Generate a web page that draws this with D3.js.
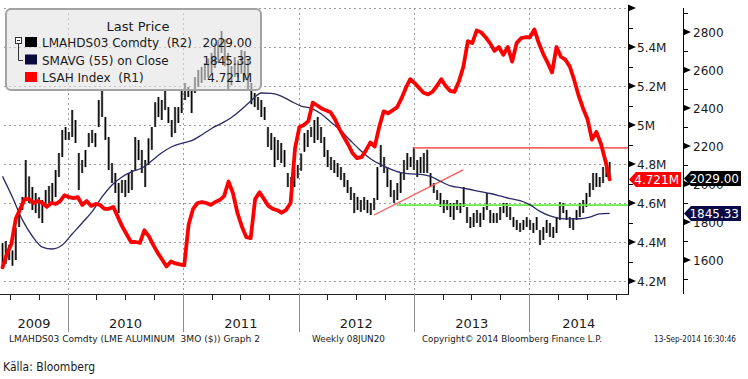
<!DOCTYPE html>
<html><head><meta charset="utf-8">
<script src="https://cdn.jsdelivr.net/npm/d3@7"></script>
<style>body{margin:0;background:#fff}svg{display:block}text{font-family:"DejaVu Sans",sans-serif;white-space:pre}</style>
</head><body><svg id="c" width="748" height="379"></svg>
<script>
// ---------------- data ----------------
const firstDate = "2009-06-08", lastDate = "2014-09-12";   // weekly series, evenly sampled between these
// LMAHDS03 Comdty (R2) – bar highs / lows
const priceHigh = [1690,1700,1680,1650,1770,1863,1932,2126,2040,1984,1953,1930,1916,1968,1990,2005,2074,
2163,2284,2300,2274,2390,2337,2163,2126,2179,2268,
2284,2268,2442,2495,2353,2247,2110,2058,2005,2021,
2021,2058,2074,2247,2232,2179,2126,2240,2300,2430,
2458,2442,2495,2405,2337,2405,2405,2495,2532,2511,
2495,2563,2600,2616,2637,2660,2690,2740,2758,2805,
2760,2690,2620,2668,2650,2705,2700,2653,2532,2479,
2458,2442,2405,2300,2268,2247,2232,2216,2179,2058,
2037,2074,2100,2160,2268,2284,2300,2337,2353,2300,
2247,2179,2142,2126,2110,2089,2058,2021,1984,1953,
1932,1916,1932,1916,1900,1926,2089,2205,2142,2089,
2021,1968,2005,2058,2126,2163,2142,2195,2126,2142,
2163,2180,2058,2005,1968,1953,1916,1916,1900,1900,
1916,1900,1984,1879,1826,1847,1863,1847,1879,1953,
1863,1847,1847,1879,1900,1900,1879,1826,1811,1795,
1811,1826,1811,1795,1826,1758,1774,1811,1795,1774,
1826,1905,1900,1863,1826,1821,1863,1900,1916,1953,
2005,2058,2058,2037,2089,2126,2116];
const priceLow = [1560,1580,1600,1570,1600,1774,1863,1916,1900,1863,1847,1820,1795,1879,1890,1900,1932,
2037,2142,2232,2232,2247,2216,1968,2058,2089,2195,
2216,2195,2300,2353,2232,2074,2005,1953,1847,1953,
1932,1953,1968,2074,2126,2058,1984,2100,2180,2300,
2353,2337,2390,2321,2247,2268,2321,2374,2442,2458,
2374,2479,2511,2532,2547,2560,2584,2610,2640,2690,
2620,2495,2520,2563,2560,2580,2547,2495,2420,2405,
2390,2353,2337,2195,2179,2089,2126,2110,2089,1984,
1968,1984,2030,2070,2170,2195,2247,2216,2232,2216,
2142,2089,2074,2058,2037,2021,1984,1953,1916,1847,
1863,1853,1863,1847,1837,1863,1916,2089,2058,1984,
1932,1900,1916,1953,2021,2074,2089,2074,2037,2058,
2058,2058,1984,1953,1916,1879,1847,1863,1826,1811,
1863,1847,1879,1795,1768,1774,1795,1774,1811,1863,
1795,1795,1795,1811,1847,1826,1811,1774,1758,1747,
1758,1774,1758,1742,1758,1679,1705,1742,1721,1716,
1742,1811,1847,1811,1768,1758,1811,1826,1847,1879,
1932,1968,1984,1984,2005,2037,2029];
// SMAVG (55) on Close (R2)
const smavg = [2040,1930,1811,1725,1668,1658,1679,1737,1795,1855,
1932,1995,2037,2065,2084,2122,2164,2196,2214,2228,
2258,2292,2319,2350,2392,2440,2479,2477,2463,2435,
2410,2398,2370,2325,2280,2226,2175,2132,2102,2078,
2060,2053,2051,2040,2014,1990,1981,1971,1960,1950,
1937,1923,1912,1890,1856,1832,1819,1816,1817,1826,
1843,1845.33];
// LSAH Index (R1), millions of tonnes
const lsah = [4.27,4.34,4.39,4.52,4.57,4.62,4.62,4.60,4.61,4.60,
4.58,4.60,4.595,4.61,4.64,4.63,4.625,4.63,4.59,4.61,
4.585,4.595,4.59,4.57,4.57,4.58,4.53,4.48,4.44,4.40,
4.40,4.395,4.46,4.43,4.385,4.345,4.31,4.275,4.30,4.29,
4.285,4.28,4.49,4.57,4.60,4.605,4.60,4.59,4.605,4.615,
4.635,4.71,4.65,4.55,4.48,4.425,4.42,4.62,4.655,4.62,
4.585,4.57,4.563,4.55,4.565,4.60,4.88,4.99,5.00,5.02,
5.115,5.10,5.085,5.075,5.065,5.03,4.98,4.94,4.90,4.855,
4.83,4.835,4.87,4.91,4.89,4.99,5.07,5.06,5.075,5.09,
5.135,5.19,5.235,5.215,5.19,5.165,5.157,5.17,5.20,5.235,
5.20,5.175,5.17,5.225,5.30,5.43,5.42,5.485,5.475,5.45,
5.42,5.38,5.40,5.36,5.40,5.325,5.42,5.445,5.45,5.45,
5.49,5.42,5.365,5.32,5.27,5.40,5.35,5.335,5.30,5.23,
5.15,5.085,5.03,4.925,4.965,4.905,4.82,4.721];
// drawn annotation lines (R2 units)
const redLevel = {from:"2012-12-30", value:2190};
const greenLevel = {from:"2012-11-08", value:1889};
const trendLine = [["2012-08-27",1837],["2013-06-05",2074]];
// axes
const r1Ticks = [4.2,4.4,4.6,4.8,5.0,5.2,5.4,5.6];
const r1Labels = ["4.2M","4.4M","4.6M","4.8M","5M","5.2M","5.4M",""];
const r2Ticks = [1600,1800,2000,2200,2400,2600,2800];
const years = ["2009","2010","2011","2012","2013","2014"];
const legendNames = ["LMAHDS03 Comdty\u00A0\u00A0(R2)","SMAVG (55) on Close","LSAH Index\u00A0\u00A0(R1)"];
const legendValues = ["2029.00","1845.33","4.721M"];
const legendColors = ["#000000","#0a0a3c","#ff0000"];
const lastValues = {lsah:4.721, price:2029.00, sma:1845.33};
const footer = ["LMAHDS03 Comdty (LME ALUMINUM\u00A0\u00A03MO ($)) Graph 2","Weekly 08JUN20","Copyright\u00A9 2014 Bloomberg Finance L.P.","13-Sep-2014 16:30:46"];
const source = "K\u00E4lla: Bloomberg";

// ---------------- chart ----------------
const parse = d3.timeParse("%Y-%m-%d");
const svg = d3.select("#c");
const T = 8, B = 294, R = 628, R2X = 683;
const x = d3.scaleTime().domain([new Date(2009,4,31), new Date(2014,10,9)]).range([0, R]);
const yR1 = d3.scaleLinear().domain([4.2,5.4]).range([281,47]);
const yR2 = d3.scaleLinear().domain([1600,2800]).range([260,32]);
const spread = n => { const a = parse(firstDate), b = parse(lastDate);
  return d3.range(n).map(i => new Date(+a + (b - a) * i / (n - 1))); };

// grid
const grid = svg.append("g").attr("stroke","#9c9c9c").attr("stroke-dasharray","2,3").attr("stroke-width",1);
r1Ticks.forEach(v => { const y = Math.round(yR1(v)) + 0.5;
  grid.append("line").attr("x1",4).attr("x2",R).attr("y1",y).attr("y2",y); });
const yearStarts = d3.timeYear.range(x.domain()[0], x.domain()[1]);
yearStarts.forEach(d => { const xx = Math.round(x(d)) + 0.5;
  grid.append("line").attr("x1",xx).attr("x2",xx).attr("y1",T).attr("y2",B); });

// price bars
const pd = spread(priceHigh.length);
const bars = svg.append("g");
bars.selectAll("line.s").data(pd).join("line").attr("class","s")
  .attr("x1",d=>x(d)).attr("x2",d=>x(d))
  .attr("y1",(d,i)=>yR2(priceHigh[i])).attr("y2",(d,i)=>yR2(priceLow[i]))
  .attr("stroke","#7c7c7c").attr("stroke-width",2.4);
bars.selectAll("line.b").data(pd).join("line").attr("class","b")
  .attr("x1",d=>x(d)).attr("x2",d=>x(d))
  .attr("y1",(d,i)=>yR2(priceHigh[i])).attr("y2",(d,i)=>yR2(priceLow[i]))
  .attr("stroke","#000").attr("stroke-width",1.1);

// annotations
svg.append("line").attr("x1",x(parse(redLevel.from))).attr("x2",R)
  .attr("y1",yR2(redLevel.value)).attr("y2",yR2(redLevel.value))
  .attr("stroke","#ff6666").attr("stroke-width",1.6);
svg.append("line").attr("x1",x(parse(greenLevel.from))).attr("x2",R)
  .attr("y1",yR2(greenLevel.value)).attr("y2",yR2(greenLevel.value))
  .attr("stroke","#66ee44").attr("stroke-width",1.8);
svg.append("line").attr("x1",x(parse(trendLine[0][0]))).attr("y1",yR2(trendLine[0][1]))
  .attr("x2",x(parse(trendLine[1][0]))).attr("y2",yR2(trendLine[1][1]))
  .attr("stroke","#ff5555").attr("stroke-width",1.3);

// SMAVG
const sd = spread(smavg.length);
svg.append("path").datum(smavg).attr("fill","none").attr("stroke","#2b2b66").attr("stroke-width",1.3)
  .attr("d", d3.line().x((d,i)=>x(sd[i])).y(d=>yR2(d)).curve(d3.curveMonotoneX));

// LSAH
const ld = spread(lsah.length);
svg.append("path").datum(lsah).attr("fill","none").attr("stroke","#ff0000").attr("stroke-width",3.8)
  .attr("stroke-linejoin","round").attr("stroke-linecap","round")
  .attr("d", d3.line().x((d,i)=>x(ld[i])).y(d=>yR1(d)));

// legend
const lg = svg.append("g");
lg.append("rect").attr("x",6).attr("y",9).attr("width",255).attr("height",81).attr("rx",5)
  .attr("fill","#e2e2e2").attr("fill-opacity",0.6).attr("stroke","#a3a3a3").attr("stroke-width",2);
lg.append("text").attr("x",138).attr("y",31).attr("text-anchor","middle").attr("font-size",13).attr("fill","#1a1a1a").text("Last Price");
legendNames.forEach((n,i) => {
  const by = 47 + i*17.5;
  lg.append("rect").attr("x",25).attr("y",by-10).attr("width",12).attr("height",10).attr("fill",legendColors[i]);
  lg.append("text").attr("x",42).attr("y",by).attr("font-size",12).attr("fill","#1a1a1a").text(n);
  lg.append("text").attr("x",252).attr("y",by).attr("text-anchor","end").attr("font-size",12).attr("fill","#1a1a1a").text(legendValues[i]);
});
lg.append("rect").attr("x",15.5).attr("y",37.5).attr("width",6).attr("height",6).attr("fill","#fff").attr("stroke","#333");
lg.append("line").attr("x1",17).attr("x2",20).attr("y1",40.5).attr("y2",40.5).attr("stroke","#333");
lg.append("path").attr("d","M18.5,44V60.5H23").attr("fill","none").attr("stroke","#333");

// right axes
const ax = svg.append("g");
ax.append("line").attr("x1",R+0.5).attr("x2",R+0.5).attr("y1",T).attr("y2",B).attr("stroke","#000");
ax.append("line").attr("x1",R2X+0.5).attr("x2",R2X+0.5).attr("y1",T).attr("y2",B).attr("stroke","#000");
ax.append("line").attr("x1",0).attr("x2",R+1).attr("y1",B+0.5).attr("y2",B+0.5).attr("stroke","#222");
r1Ticks.forEach((v,i) => { const y = yR1(v);
  ax.append("path").attr("d",`M${R},${y-3.5}L${R+8},${y}L${R},${y+3.5}Z`).attr("fill","#000");
  if (r1Labels[i]) ax.append("text").attr("x",R+9).attr("y",y+4.5).attr("font-size",12).attr("fill","#1a1a1a").text(r1Labels[i]);
  if (v < 5.6) { const ym = Math.round(yR1(v+0.1))+0.5;
    ax.append("line").attr("x1",R).attr("x2",R+5).attr("y1",ym).attr("y2",ym).attr("stroke","#000"); }
});
[4.1].forEach(v=>{ const ym = Math.round(yR1(v))+0.5; if (ym < B) ax.append("line").attr("x1",R).attr("x2",R+5).attr("y1",ym).attr("y2",ym).attr("stroke","#000"); });
r2Ticks.forEach(v => { const y = yR2(v);
  ax.append("path").attr("d",`M${R2X},${y-3.5}L${R2X+8},${y}L${R2X},${y+3.5}Z`).attr("fill","#000");
  ax.append("text").attr("x",R2X+10).attr("y",y+4.5).attr("font-size",12).attr("fill","#1a1a1a").text(v);
});
[1500,1700,1900,2100,2300,2500,2700,2900].forEach(v => { const ym = Math.round(yR2(v))+0.5;
  if (ym > T && ym < B) ax.append("line").attr("x1",R2X).attr("x2",R2X+5).attr("y1",ym).attr("y2",ym).attr("stroke","#000"); });

// x axis
d3.timeMonth.every(3).range(x.domain()[0], x.domain()[1]).forEach(d => {
  if (d.getMonth() === 0) return;
  const xx = Math.round(x(d)) + 0.5;
  ax.append("line").attr("x1",xx).attr("x2",xx).attr("y1",B).attr("y2",B+6).attr("stroke","#222");
});
yearStarts.forEach(d => { const xx = Math.round(x(d)) + 0.5;
  ax.append("line").attr("x1",xx).attr("x2",xx).attr("y1",B).attr("y2",332).attr("stroke","#8c8c8c"); });
const bounds = [0, ...yearStarts.map(d=>x(d)), R];
years.forEach((yv,i) => {
  ax.append("text").attr("x",(bounds[i]+bounds[i+1])/2).attr("y",328).attr("text-anchor","middle")
    .attr("font-size",13).attr("font-family","DejaVu Sans Condensed").attr("fill","#1a1a1a").text(yv);
});
const fx = [[9,251],[312,73],[422,180],[654,82]];
footer.forEach((t,i) => ax.append("text").attr("x",fx[i][0]).attr("y",342).attr("font-size",8.5)
  .attr("font-family","DejaVu Sans Condensed").attr("textLength",fx[i][1]).attr("lengthAdjust","spacingAndGlyphs")
  .attr("fill","#1a1a1a").text(t));
ax.append("text").attr("x",3).attr("y",371).attr("font-size",13).attr("font-family","Liberation Sans Narrow, Liberation Sans")
  .attr("textLength",92).attr("lengthAdjust","spacingAndGlyphs").attr("fill","#1a1a1a").text(source);

// value tags
function tag(x0, x1, y, fill, txt){
  svg.append("path").attr("d",`M${x0},${y}L${x0+7},${y-7.5}H${x1}V${y+7.5}H${x0+7}Z`).attr("fill",fill);
  svg.append("text").attr("x",x1-2).attr("y",y+4.5).attr("text-anchor","end").attr("font-size",12).attr("fill","#fff").text(txt);
}
tag(R+1, 681, yR1(lastValues.lsah), "#ff0000", lastValues.lsah.toFixed(3)+"M");
tag(R2X+1, 741, yR2(lastValues.price), "#000000", lastValues.price.toFixed(2));
tag(R2X+1, 741, yR2(lastValues.sma), "#0a0a46", lastValues.sma.toFixed(2));
</script></body></html>
